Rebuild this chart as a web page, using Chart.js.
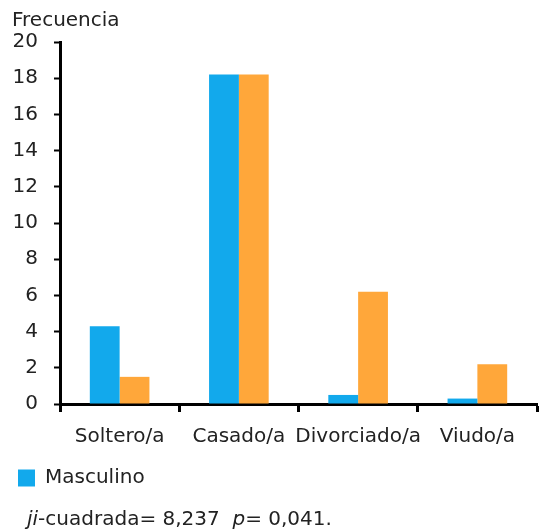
<!DOCTYPE html>
<html>
<head>
<meta charset="utf-8">
<script src="https://cdn.jsdelivr.net/npm/chart.js@4/dist/chart.umd.min.js"></script>
<style>
  html, body { margin: 0; padding: 0; background: #ffffff; }
  #wrap { width: 540px; height: 529px; position: relative; }
</style>
</head>
<body>
<div id="wrap"><canvas id="c" width="540" height="529"></canvas></div>
<script>
const categories = ["Soltero/a", "Casado/a", "Divorciado/a", "Viudo/a"];
const masculino = [4.3, 18.2, 0.5, 0.3];
const femenino = [1.5, 18.2, 6.2, 2.2];
const seriesNames = ["Masculino", "Femenino"];
const yTitle = "Frecuencia";
const footnoteParts = [
  { text: "ji", italic: true },
  { text: "-cuadrada= 8,237  ", italic: false },
  { text: "p", italic: true },
  { text: "= 0,041.", italic: false }
];

const FONT = "'DejaVu Sans', Verdana, sans-serif";
const FS = 20;

const footnotePlugin = {
  id: 'footnote',
  afterDraw(chart) {
    const ctx = chart.ctx;
    ctx.save();
    ctx.fillStyle = '#222';
    ctx.textBaseline = 'alphabetic';
    let x = 27;
    const y = chart.height - 4;
    footnoteParts.forEach(p => {
      ctx.font = (p.italic ? 'italic ' : '') + FS + 'px ' + FONT;
      ctx.fillText(p.text, x, y);
      x += ctx.measureText(p.text).width;
    });
    ctx.restore();
  }
};

new Chart(document.getElementById('c'), {
  type: 'bar',
  data: {
    labels: categories,
    datasets: [
      { label: seriesNames[0], data: masculino, backgroundColor: '#12A9EC', borderWidth: 0 },
      { label: seriesNames[1], data: femenino, backgroundColor: '#FFA73A', borderWidth: 0 }
    ]
  },
  options: {
    responsive: false,
    animation: false,
    devicePixelRatio: 1,
    layout: { padding: { left: 12, right: 3, top: 0, bottom: 31 } },
    datasets: { bar: { categoryPercentage: 0.5, barPercentage: 1.0 } },
    plugins: {
      title: {
        display: true,
        text: yTitle,
        align: 'start',
        color: '#222',
        font: { family: FONT, size: FS, weight: 'normal' },
        padding: { top: 9, bottom: 9 }
      },
      legend: {
        position: 'bottom',
        align: 'start',
        labels: {
          filter: (item) => item.datasetIndex === 0,
          boxWidth: 17,
          boxHeight: 17,
          padding: 6,
          color: '#222',
          font: { family: FONT, size: FS }
        }
      },
      tooltip: { enabled: false }
    },
    scales: {
      x: {
        grid: { display: true, drawOnChartArea: false, tickLength: 8, tickWidth: 3, tickColor: '#000', offset: true },
        border: { display: true, color: '#000', width: 3 },
        ticks: { color: '#222', font: { family: FONT, size: FS }, padding: 13, maxRotation: 0, autoSkip: false }
      },
      y: {
        min: 0,
        max: 20,
        afterFit(scale) { scale.width = 48; },
        grid: { display: true, drawOnChartArea: false, tickLength: 6, tickWidth: 2, tickColor: '#000' },
        border: { display: true, color: '#000', width: 3 },
        ticks: { stepSize: 2, color: '#222', font: { family: FONT, size: FS }, padding: 16 }
      }
    }
  },
  plugins: [footnotePlugin]
});
</script>
</body>
</html>
